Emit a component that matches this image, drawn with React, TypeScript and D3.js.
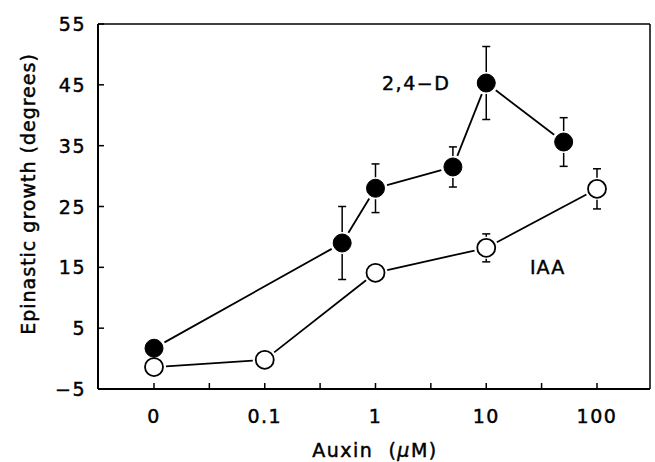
import React from 'react';
import * as d3 from 'd3';

// 2,4-D series (0 is drawn at the 0.01 position of the log axis)
const d24Conc = [0, 0.5, 1, 5, 10, 50];
const d24Mean = [1.7, 19.0, 28.0, 31.5, 45.3, 35.6];
const d24Err = [0, 6.0, 4.0, 3.3, 6.0, 4.0];

// IAA series
const iaaConc = [0, 0.1, 1, 10, 100];
const iaaMean = [-1.4, -0.2, 14.1, 18.2, 27.9];
const iaaErr = [0, 0, 0, 2.3, 3.3];

const xTickLabels = ['0', '0.1', '1', '10', '100'];
const xTickValues = [0.01, 0.1, 1, 10, 100];
const xMinorValues = [0.01, 0.0316, 0.1, 0.316, 1, 3.16, 10, 31.6, 100];
const yTicks = [-5, 5, 15, 25, 35, 45, 55];

const W = 655;
const H = 462;
const font = 'DejaVu Sans, sans-serif';
const R = 9;

const toX = (c: number) => (c === 0 ? 0.01 : c);

export default function App() {
	const x = d3.scaleLog().domain([0.01, 100]).range([154, 597]);
	const y = d3.scaleLinear().domain([-5, 55]).range([389, 24]);
	const left = 98, right = 650, top = 24, bottom = 389;

	// text looks a bit heavier in the print
	const txt = { fontFamily: font, fontSize: 19, stroke: 'black', strokeWidth: 0.45 };

	// draw segment between two points, trimmed at the circles
	const segs = (conc: number[], mean: number[]) => {
		const out: JSX.Element[] = [];
		for (let i = 0; i < conc.length - 1; i++) {
			const x1 = x(toX(conc[i])), y1 = y(mean[i]);
			const x2 = x(toX(conc[i + 1])), y2 = y(mean[i + 1]);
			const dx = x2 - x1, dy = y2 - y1;
			const len = Math.sqrt(dx * dx + dy * dy);
			const g = R + 3;
			if (len <= 2 * g) continue;
			out.push(
				<line key={i}
					x1={x1 + dx / len * g} y1={y1 + dy / len * g}
					x2={x2 - dx / len * g} y2={y2 - dy / len * g}
					stroke="black" strokeWidth={1.8} />
			);
		}
		return out;
	};

	const errs = (conc: number[], mean: number[], err: number[]) =>
		conc.map((c, i) => {
			if (!err[i]) return null;
			const cx = x(toX(c));
			const yt = y(mean[i] + err[i]);
			const yb = y(mean[i] - err[i]);
			const yc = y(mean[i]);
			return (
				<g key={i} stroke="black" strokeWidth={1.5}>
					{yc - R - 2 > yt && <line x1={cx} x2={cx} y1={yc - R - 2} y2={yt} />}
					<line x1={cx - 4} x2={cx + 4} y1={yt} y2={yt} />
					{yb > yc + R + 2 && <line x1={cx} x2={cx} y1={yc + R + 2} y2={yb} />}
					<line x1={cx - 4} x2={cx + 4} y1={yb} y2={yb} />
				</g>
			);
		});

	return (
		<svg width={W} height={H} style={{ position: 'absolute', left: 0, top: 0, background: 'white' }}>
			<rect x={0} y={0} width={W} height={H} fill="white" />
			{/* frame */}
			<line x1={left} x2={left} y1={top} y2={bottom} stroke="black" strokeWidth={2} />
			<line x1={left} x2={right} y1={bottom} y2={bottom} stroke="black" strokeWidth={2} />
			<line x1={left} x2={right} y1={top} y2={top} stroke="black" strokeWidth={1.5} />
			<line x1={right} x2={right} y1={top} y2={bottom} stroke="black" strokeWidth={1.5} />

			{/* y ticks */}
			{yTicks.map(t => (
				<g key={t}>
					<line x1={left} x2={left + 6} y1={y(t)} y2={y(t)} stroke="black" strokeWidth={1.5} />
					<text x={86} y={y(t) + 7} textAnchor="end" {...txt}
						letterSpacing={1.5}>{t < 0 ? '\u2212' + Math.abs(t) : t}</text>
				</g>
			))}

			{/* x ticks */}
			{xMinorValues.map(t => (
				<line key={t} x1={x(t)} x2={x(t)} y1={bottom} y2={bottom - 6} stroke="black" strokeWidth={1.5} />
			))}
			{xTickValues.map((t, i) => (
				<text key={t} x={x(t)} y={423} textAnchor="middle" {...txt}
					letterSpacing={1.5}>{xTickLabels[i]}</text>
			))}

			{/* axis titles */}
			<text x={375} y={457} textAnchor="middle" {...txt} letterSpacing={1.5}
				xmlSpace="preserve">{'Auxin  ('}<tspan fontStyle="italic">{'\u03bc'}</tspan>{'M)'}</text>
			<text transform="translate(35,194) rotate(-90)" textAnchor="middle" {...txt}
				letterSpacing={1}>Epinastic growth (degrees)</text>

			{/* series */}
			{segs(iaaConc, iaaMean)}
			{segs(d24Conc, d24Mean)}
			{errs(iaaConc, iaaMean, iaaErr)}
			{errs(d24Conc, d24Mean, d24Err)}
			{iaaConc.map((c, i) => (
				<circle key={i} cx={x(toX(c))} cy={y(iaaMean[i])} r={R} fill="white" stroke="black" strokeWidth={1.8} />
			))}
			{d24Conc.map((c, i) => (
				<circle key={i} cx={x(toX(c))} cy={y(d24Mean[i])} r={R} fill="black" stroke="black" strokeWidth={1} />
			))}

			{/* labels */}
			<text x={382} y={90} {...txt} letterSpacing={1.5}>2,4{'\u2212'}D</text>
			<text x={530} y={274} {...txt} letterSpacing={1}>IAA</text>
		</svg>
	);
}
